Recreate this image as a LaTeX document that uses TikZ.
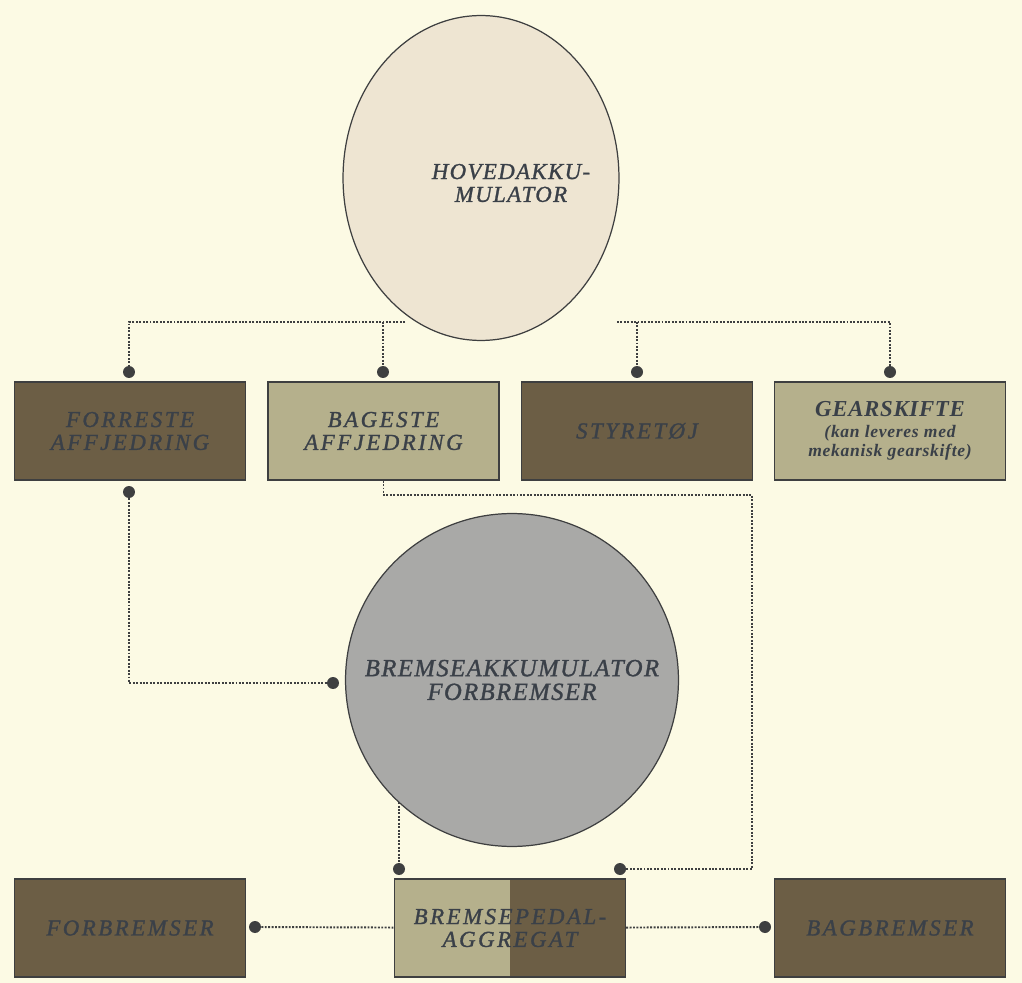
\documentclass[tikz,border=0pt]{standalone}
\usepackage{fontspec}
\setmainfont{Liberation Serif}
\newfontfamily\boxfont[LetterSpace=11,FakeBold=1.2]{Liberation Serif}
\newfontfamily\ringfont[LetterSpace=6,FakeBold=1.2]{Liberation Serif}
\newfontfamily\gearfont[LetterSpace=3]{Liberation Serif}
\newfontfamily\notefont[LetterSpace=4]{Liberation Serif}
\newcommand{\notetext}{\notefont\bfseries\itshape\fontsize{10}{9}\selectfont}
\usetikzlibrary{positioning,shapes.geometric}
\definecolor{paper}{HTML}{FCFAE4}
\definecolor{ink}{HTML}{3A4048}
\definecolor{edge}{HTML}{3E3F40}
\definecolor{dkbox}{HTML}{6C5E45}
\definecolor{ltbox}{HTML}{B5B08C}
\definecolor{beige}{HTML}{EEE5D2}
\definecolor{grey}{HTML}{A9A9A7}

\begin{document}
\begin{tikzpicture}[x=0.02cm,y=-0.02cm,
 box/.style={draw=edge,line width=0.8pt,minimum width=4.62cm,minimum height=1.96cm,align=center,text=ink,
  font=\boxfont\itshape\fontsize{13}{13}\selectfont},
 dark/.style={box,fill=dkbox},
 light/.style={box,fill=ltbox},
 ring/.style={draw=edge,line width=0.7pt,inner sep=0pt,align=center,text=ink,
  font=\ringfont\itshape\fontsize{14}{13.5}\selectfont},
 dot/.style={circle,fill=edge,inner sep=0pt,minimum size=0.24cm},
 con/.style={draw=edge,line width=1.1pt,dash pattern=on 1.1pt off 0.85pt}]
\fill[paper](0,0) rectangle (1022,983);
% reservoirs
\node[ring,ellipse,fill=beige,minimum width=5.52cm,minimum height=6.5cm,
 label={[ring,draw=none,xshift=0.6cm,yshift=-0.1cm,font=\ringfont\itshape\fontsize{13}{13}\selectfont]center:HOVEDAKKU-\\MULATOR}](hov) at (481,178) {};
\node[ring,circle,fill=grey,minimum size=6.66cm](brak) at (512,680) {BREMSEAKKUMULATOR\\FORBREMSER};
% top row
\node[dark](fa) at (130,431) {FORRESTE\\AFFJEDRING};
\node[light](ba) at (383.5,431) {BAGESTE\\AFFJEDRING};
\node[dark](st) at (637,431) {STYRETØJ};
\node[light](gs) at (890,431) {\gearfont\bfseries GEARSKIFTE\\[-1pt]
 \notetext (kan leveres med\\[-2pt]\notetext mekanisk gearskifte)};
% bottom row
\node[dark](fb) at (130,928) {FORBREMSER};
\node[light,path picture={\fill[dkbox](path picture bounding box.north) rectangle (path picture bounding box.south east);}](bp) at (510,928) {BREMSEPEDAL-\\AGGREGAT};
\node[dark](bb) at (890,928) {BAGBREMSER};
% dots
\node[dot](dfa) at (129,372) {};
\node[dot](dba) at (383,372) {};
\node[dot](dst) at (637,372) {};
\node[dot](dgs) at (890,372) {};
\node[dot](dfu) at (129,492) {};
\node[dot](dbk) at (333,683) {};
\node[dot](dpl) at (399,869) {};
\node[dot](dpr) at (620,869) {};
\node[dot](dfb) at (255,927) {};
\node[dot](dbb) at (765,927) {};
\coordinate(tl) at (405,322);
\coordinate(tr) at (617,322);
\coordinate(kn) at (752,495);
% lines
\draw[con](tl) -| (dfa);\draw[con](dba |- tl) -- (dba);
\draw[con](tr) -| (dgs);\draw[con](dst |- tr) -- (dst);
\draw[con](dfu) |- (dbk);
\draw[con](ba.south) |- (kn) |- (dpr);
\draw[con](dpl |- brak.-133) -- (dpl);
\draw[con](dfb) -- (bp);\draw[con](bp) -- (dbb);
\end{tikzpicture}
\end{document}
